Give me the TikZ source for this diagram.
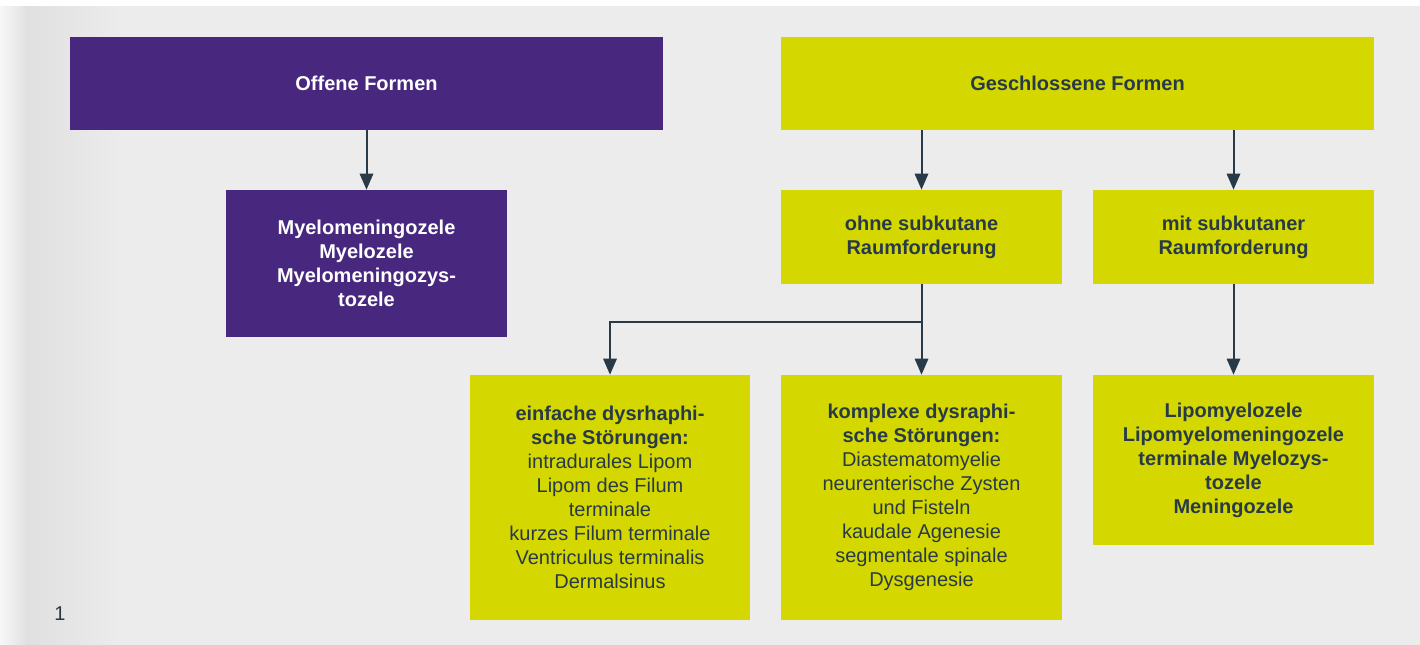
\documentclass[tikz,border=0pt]{standalone}
\usepackage{fontspec}
\setmainfont{Liberation Sans}
\definecolor{violett}{HTML}{48277F}
\definecolor{gelbgruen}{HTML}{D4D800}
\definecolor{schiefer}{HTML}{283A48}
\definecolor{hinterg}{HTML}{ECECEC}
\definecolor{rand}{HTML}{E0E0E0}
\usetikzlibrary{arrows.meta}

\begin{document}
\begin{tikzpicture}[x=0.75pt, y=-0.75pt,
    kasten/.style={inner sep=0pt, align=center, fill=gelbgruen, text=schiefer,
                   font=\fontsize{15}{18}\selectfont},
    lila/.style={kasten, fill=violett, text=white},
    breit/.style={minimum width=444.75pt, minimum height=69.75pt},
    schmal/.style={minimum width=210.75pt},
    pfeil/.style={draw=schiefer, line width=1.5pt, -{Triangle[width=10pt,length=12pt]}}]
    % hintergrund
    \useasboundingbox (0,0) rectangle (1420,644);
    \fill[white] (0,0) rectangle (1420,644);
    \shade[left color=hinterg!40!white, right color=hinterg!95!black] (0,6) rectangle (27,646);
    \fill[hinterg] (120,6) rectangle (1420,646);
    \shade[left color=rand, right color=hinterg] (27,6) rectangle (121,646);

    % obere ebene
    \node[lila, breit]   (offen)  at (366.5,83.5)  {\textbf{Offene Formen}};
    \node[kasten, breit] (geschl) at (1077.5,83.5) {\textbf{Geschlossene Formen}};

    % mittlere ebene
    \node[lila, schmal, minimum height=110.25pt] (myelo) at (366.5,263.5)
        {\textbf{Myelomeningozele}\\\textbf{Myelozele}\\\textbf{Myelomeningozys-}\\\textbf{tozele}};
    \node[kasten, schmal, minimum height=70.5pt] (ohne) at (921.5,237)
        {\textbf{ohne subkutane}\\\textbf{Raumforderung}};
    \node[kasten, schmal, minimum height=70.5pt] (mit) at (1233.5,237)
        {\textbf{mit subkutaner}\\\textbf{Raumforderung}};

    % untere ebene
    \node[kasten, minimum width=210pt, minimum height=183.75pt] (einfach) at (610,497.5)
        {\textbf{einfache dysrhaphi-}\\\textbf{sche Störungen:}\\intradurales Lipom\\Lipom des Filum\\terminale\\kurzes Filum terminale\\Ventriculus terminalis\\Dermalsinus};
    \node[kasten, schmal, minimum height=183.75pt] (komplex) at (921.5,497.5)
        {\textbf{komplexe dysraphi-}\\\textbf{sche Störungen:}\\Diastematomyelie\\neurenterische Zysten\\und Fisteln\\kaudale Agenesie\\segmentale spinale\\Dysgenesie};
    \node[kasten, schmal, minimum height=127.5pt] (lipo) at (1233.5,460)
        {\textbf{Lipomyelozele}\\\textbf{Lipomyelomeningozele}\\\textbf{terminale Myelozys-}\\\textbf{tozele}\\\textbf{Meningozele}};

    \node[text=schiefer, font=\fontsize{15}{18}\selectfont] (nr) at (60,614) {1};

    % pfeile
    \draw[pfeil] (offen) -- (myelo);
    \draw[pfeil] (ohne.north |- geschl.south) -- (ohne);
    \draw[pfeil] (mit.north |- geschl.south) -- (mit);
    \draw[pfeil] (ohne) -- (komplex);
    \draw[pfeil] (ohne.south) ++(0,38) -| (einfach.north);
    \draw[pfeil] (mit) -- (lipo);
\end{tikzpicture}
\end{document}
